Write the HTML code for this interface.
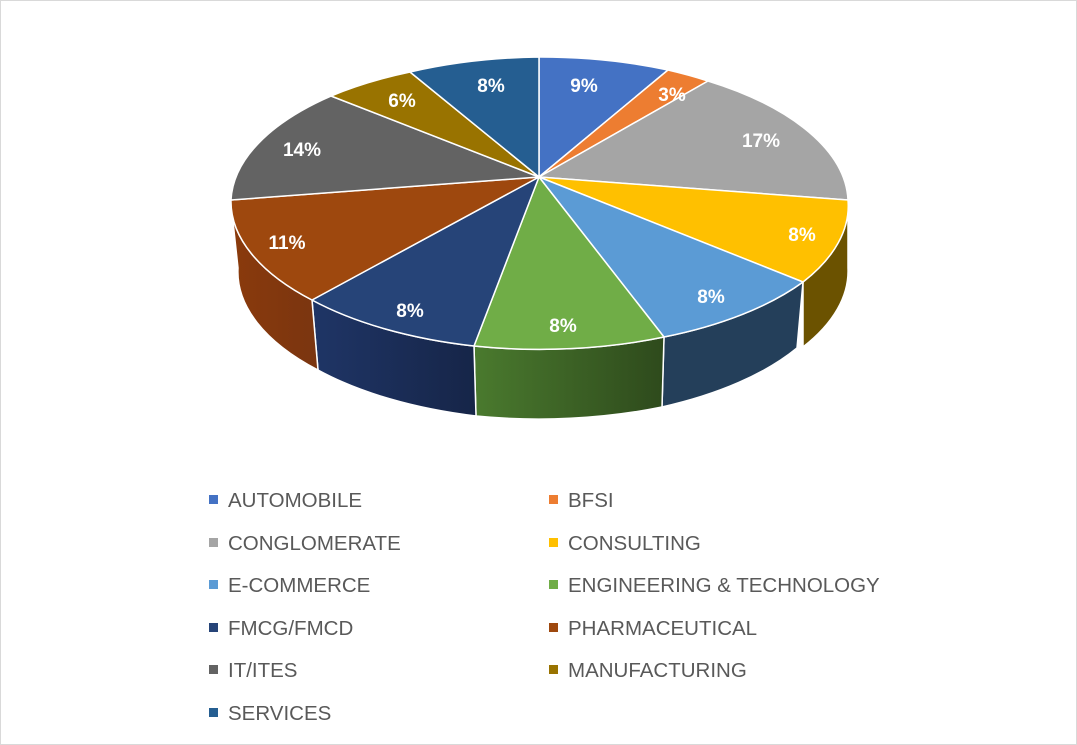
<!DOCTYPE html>
<html><head><meta charset="utf-8"><style>
html,body{margin:0;padding:0;background:#fff;}
svg{display:block;font-family:"Liberation Sans",Arial,sans-serif;}
</style></head><body>
<svg width="1077" height="745" viewBox="0 0 1077 745">
<defs>
<linearGradient id="gEng" x1="0" x2="1" y1="0" y2="0"><stop offset="0" stop-color="#4a7a2e"/><stop offset="1" stop-color="#2e4a1c"/></linearGradient>
<linearGradient id="gFm" x1="0" x2="1" y1="0" y2="0"><stop offset="0" stop-color="#1f3566"/><stop offset="1" stop-color="#162548"/></linearGradient>
<linearGradient id="gPh" x1="0" x2="1" y1="0" y2="0"><stop offset="0" stop-color="#8a3a0c"/><stop offset="1" stop-color="#7a3510"/></linearGradient>
</defs>
<rect x="0.5" y="0.5" width="1076" height="744" fill="#fff" stroke="#d9d9d9"/>
<g stroke="#fff" stroke-width="1.5" stroke-linejoin="round">
<path d="M848,203 A309,146 0 0 1 803,282 L803,347 A309,146 0 0 0 848,268 Z" fill="#6b5200"/>
<path d="M803,282 A309,146 0 0 1 664,337 L662,407 A309,146 0 0 0 797,348 Z" fill="#243f5a"/>
<path d="M664,337 A309,146 0 0 1 474,346 L476,416 A309,146 0 0 0 662,407 Z" fill="url(#gEng)"/>
<path d="M474,346 A309,146 0 0 1 312,300 L318,370 A309,146 0 0 0 476,416 Z" fill="url(#gFm)"/>
<path d="M312,300 A309,146 0 0 1 231,203 L238,268 A309,146 0 0 0 318,370 Z" fill="url(#gPh)"/>
<path d="M539,177 L539,57 A309,146 0 0 1 668,70 Z" fill="#4472C4"/>
<path d="M539,177 L668,70 A309,146 0 0 1 708,81 Z" fill="#ED7D31"/>
<path d="M539,177 L708,81 A309,146 0 0 1 848,200 Z" fill="#A5A5A5"/>
<path d="M539,177 L848,200 A309,146 0 0 1 803,282 Z" fill="#FFC000"/>
<path d="M539,177 L803,282 A309,146 0 0 1 664,337 Z" fill="#5B9BD5"/>
<path d="M539,177 L664,337 A309,146 0 0 1 474,346 Z" fill="#70AD47"/>
<path d="M539,177 L474,346 A309,146 0 0 1 312,300 Z" fill="#264478"/>
<path d="M539,177 L312,300 A309,146 0 0 1 231,200 Z" fill="#9E480E"/>
<path d="M539,177 L231,200 A309,146 0 0 1 331,96 Z" fill="#636363"/>
<path d="M539,177 L331,96 A309,146 0 0 1 410,72 Z" fill="#997300"/>
<path d="M539,177 L410,72 A309,146 0 0 1 539,57 Z" fill="#255E91"/>
</g>
<g fill="#fff" font-weight="bold" font-size="19" text-anchor="middle">
<text x="584" y="92">9%</text>
<text x="672" y="101">3%</text>
<text x="761" y="147">17%</text>
<text x="802" y="241">8%</text>
<text x="711" y="303">8%</text>
<text x="563" y="332">8%</text>
<text x="410" y="317">8%</text>
<text x="287" y="249">11%</text>
<text x="302" y="156">14%</text>
<text x="402" y="107">6%</text>
<text x="491" y="92">8%</text>
</g>
<g font-size="20.5" fill="#595959">
<rect x="209" y="495" width="9" height="9" fill="#4472C4"/><text x="228" y="507">AUTOMOBILE</text>
<rect x="549" y="495" width="9" height="9" fill="#ED7D31"/><text x="568" y="507">BFSI</text>
<rect x="209" y="538" width="9" height="9" fill="#A5A5A5"/><text x="228" y="550">CONGLOMERATE</text>
<rect x="549" y="538" width="9" height="9" fill="#FFC000"/><text x="568" y="550">CONSULTING</text>
<rect x="209" y="580" width="9" height="9" fill="#5B9BD5"/><text x="228" y="592">E-COMMERCE</text>
<rect x="549" y="580" width="9" height="9" fill="#70AD47"/><text x="568" y="592">ENGINEERING &amp; TECHNOLOGY</text>
<rect x="209" y="623" width="9" height="9" fill="#264478"/><text x="228" y="635">FMCG/FMCD</text>
<rect x="549" y="623" width="9" height="9" fill="#9E480E"/><text x="568" y="635">PHARMACEUTICAL</text>
<rect x="209" y="665" width="9" height="9" fill="#636363"/><text x="228" y="677">IT/ITES</text>
<rect x="549" y="665" width="9" height="9" fill="#997300"/><text x="568" y="677">MANUFACTURING</text>
<rect x="209" y="708" width="9" height="9" fill="#255E91"/><text x="228" y="720">SERVICES</text>
</g>
</svg>
</body></html>
